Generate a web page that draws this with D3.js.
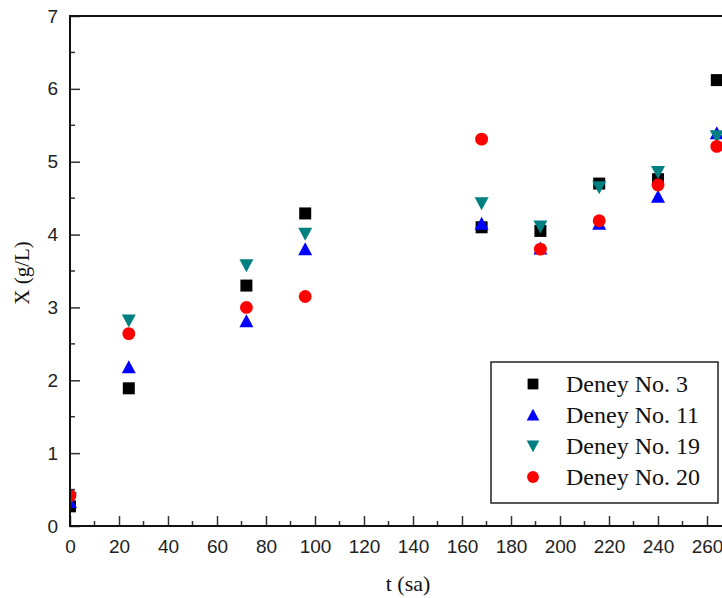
<!DOCTYPE html>
<html><head><meta charset="utf-8">
<script src="https://cdn.jsdelivr.net/npm/d3@7"></script>
<style>body{margin:0;background:#fff}svg{display:block}</style>
</head><body>
<script>
const times = [0, 24, 72, 96, 168, 192, 216, 240, 264];
const deney3  = [0.27, 1.89, 3.30, 4.29, 4.10, 4.05, 4.70, 4.76, 6.12];
const deney11 = [0.33, 2.18, 2.81, 3.80, 4.15, 3.81, 4.15, 4.52, 5.39];
const deney19 = [0.38, 2.82, 3.58, 4.01, 4.43, 4.11, 4.65, 4.86, 5.35];
const deney20 = [0.42, 2.64, 3.00, 3.15, 5.31, 3.80, 4.19, 4.68, 5.21];
const seriesNames = ["Deney No. 3", "Deney No. 11", "Deney No. 19", "Deney No. 20"];
const xTicks = [0,20,40,60,80,100,120,140,160,180,200,220,240,260,280];
const yTicks = [0,1,2,3,4,5,6,7];

const W = 722, H = 598;
const svg = d3.select("body").append("svg").attr("width", W).attr("height", H);
const x = d3.scaleLinear().domain([0, 280]).range([70, 70 + 280 * 2.45]);
const y = d3.scaleLinear().domain([0, 7]).range([526, 16]);

const series = [
  {name: seriesNames[0], vals: deney3, color: "#000000", sym: "square"},
  {name: seriesNames[1], vals: deney11, color: "#0000FF", sym: "up"},
  {name: seriesNames[2], vals: deney19, color: "#008080", sym: "down"},
  {name: seriesNames[3], vals: deney20, color: "#FF0000", sym: "circle"}
];
function symPath(s) {
  if (s === "square") return "M-6,-6H6V6H-6Z";
  if (s === "up") return "M0,-7L7,6H-7Z";
  if (s === "down") return "M0,7L7,-6H-7Z";
  return d3.symbol(d3.symbolCircle, 130)();
}

svg.append("clipPath").attr("id", "clip").append("rect")
  .attr("x", 70).attr("y", 16).attr("width", 700).attr("height", 510);

const plot = svg.append("g").attr("clip-path", "url(#clip)");
series.forEach(s => {
  plot.selectAll(null).data(times.map((t, i) => [t, s.vals[i]])).enter()
    .append("path").attr("d", symPath(s.sym))
    .attr("transform", d => `translate(${x(d[0])},${y(d[1])})`)
    .attr("fill", s.color);
});

// axes with inward ticks
const xAxis = d3.axisBottom(x).tickValues(xTicks).tickSize(-10).tickPadding(14).tickFormat(d3.format("d"));
const gx = svg.append("g").attr("transform", "translate(0,526)").call(xAxis);
gx.select(".domain").remove();
gx.selectAll("text").attr("font-family", "Liberation Sans, Arial, sans-serif").attr("font-size", 19).attr("fill", "#222");
gx.selectAll("line").attr("stroke", "#333").attr("stroke-width", 1.5);
const xMinor = d3.range(10, 280, 20);
svg.append("g").selectAll("line").data(xMinor).enter().append("line")
  .attr("x1", d => x(d)).attr("x2", d => x(d)).attr("y1", 526).attr("y2", 521)
  .attr("stroke", "#333").attr("stroke-width", 1.5);

const yAxis = d3.axisLeft(y).tickValues(yTicks).tickSize(-10).tickPadding(12).tickFormat(d3.format("d"));
const gy = svg.append("g").attr("transform", "translate(70,0)").call(yAxis);
gy.select(".domain").remove();
gy.selectAll("text").attr("font-family", "Liberation Sans, Arial, sans-serif").attr("font-size", 19).attr("fill", "#222");
gy.selectAll("line").attr("stroke", "#333").attr("stroke-width", 1.5);
const yMinor = d3.range(0.5, 7, 1);
svg.append("g").selectAll("line").data(yMinor).enter().append("line")
  .attr("x1", 70).attr("x2", 75).attr("y1", d => y(d)).attr("y2", d => y(d))
  .attr("stroke", "#333").attr("stroke-width", 1.5);

// frame
svg.append("rect").attr("x", x(0)).attr("y", y(7)).attr("width", x(280) - x(0)).attr("height", y(0) - y(7))
  .attr("fill", "none").attr("stroke", "#111").attr("stroke-width", 2);

// axis titles
svg.append("text").attr("x", 408).attr("y", 591).attr("text-anchor", "middle")
  .attr("font-family", "Liberation Serif, Times New Roman, serif").attr("font-size", 22).attr("fill", "#111").text("t (sa)");
svg.append("text").attr("transform", "translate(29,273) rotate(-90)").attr("text-anchor", "middle")
  .attr("font-family", "Liberation Serif, Times New Roman, serif").attr("font-size", 21).attr("fill", "#111").text("X (g/L)");

// legend
const lg = svg.append("g");
lg.append("rect").attr("x", 491).attr("y", 362).attr("width", 227).attr("height", 141)
  .attr("fill", "#fff").attr("stroke", "#222").attr("stroke-width", 1.5);
const ly = [384, 415, 446, 477];
series.forEach((s, i) => {
  lg.append("path").attr("d", s.sym === "circle" ? d3.symbol(d3.symbolCircle, 110)() : symPath(s.sym))
    .attr("transform", `translate(533,${ly[i]}) scale(${s.sym === "circle" ? 1 : 0.9})`).attr("fill", s.color);
  lg.append("text").attr("x", 566).attr("y", ly[i] + 8)
    .attr("font-family", "Liberation Serif, Times New Roman, serif").attr("font-size", 24).attr("fill", "#111").text(s.name);
});
</script>
</body></html>
